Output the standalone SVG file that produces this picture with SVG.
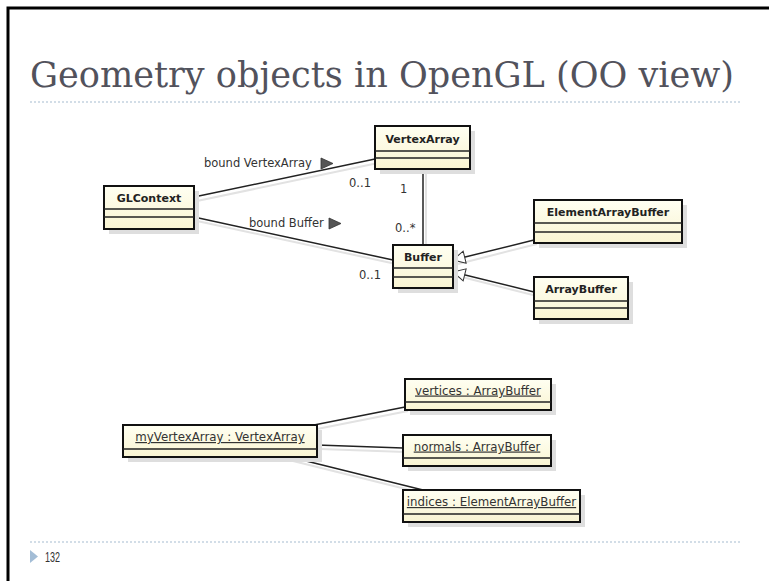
<svg xmlns="http://www.w3.org/2000/svg" width="769" height="581" viewBox="0 0 769 581">
  <defs>
    <linearGradient id="boxfill" x1="0" y1="0" x2="0" y2="1">
      <stop offset="0" stop-color="#fffff2"/>
      <stop offset="1" stop-color="#f9f4d2"/>
    </linearGradient>
    <marker id="gen" viewBox="0 0 14 14" refX="13" refY="7" markerWidth="14" markerHeight="14" markerUnits="userSpaceOnUse" orient="auto">
      <path d="M1,0.8 L13,7 L1,13.2 Z" fill="#ffffff" stroke="#333333" stroke-width="1"/>
    </marker>
  </defs>
  <style>
    .frame { stroke: #000; stroke-width: 3; fill: none; }
    .dots { stroke: #c3d2e0; stroke-width: 1.5; stroke-dasharray: 2 2; fill: none; }
    .title { font-family: "DejaVu Serif", "Liberation Serif", serif; font-size: 35px; fill: #52525c; }
    .shadow { fill: #dedede; }
    .box { fill: url(#boxfill); stroke: #111; stroke-width: 2; }
    .sep { stroke: #222; stroke-width: 1.5; }
    .cls { font-family: "DejaVu Sans", "Liberation Sans", sans-serif; font-size: 11px; font-weight: bold; fill: #222; text-anchor: middle; }
    .obj { font-family: "DejaVu Sans", "Liberation Sans", sans-serif; font-size: 11.8px; fill: #333; text-anchor: middle; text-decoration: underline; }
    .lbl { font-family: "DejaVu Sans", "Liberation Sans", sans-serif; font-size: 11.5px; fill: #333; }
    .link { stroke: #222; stroke-width: 1.5; fill: none; }
    .lshadow { stroke: #e2e2e2; stroke-width: 2; fill: none; }
    .dir { fill: #555; stroke: #333; stroke-width: 0.8; }
    .foot { font-family: "Liberation Sans", "DejaVu Sans", sans-serif; font-size: 14px; fill: #333; }
  </style>

  <rect width="769" height="581" fill="#ffffff"/>
  <path class="frame" d="M8,581 L8,8 L769,8"/>

  <text class="title" x="30" y="87" textLength="704" lengthAdjust="spacingAndGlyphs">Geometry objects in OpenGL (OO view)</text>
  <line class="dots" x1="30" y1="102" x2="741" y2="102"/>

  <g id="connectors">
    <line class="lshadow" x1="197" y1="201" x2="378" y2="163"/>
    <line class="lshadow" x1="197" y1="221" x2="396" y2="264"/>
    <line class="lshadow" x1="426" y1="170" x2="426" y2="246"/>
    <line class="lshadow" x1="537" y1="244" x2="458" y2="264"/>
    <line class="lshadow" x1="537" y1="296" x2="458" y2="276"/>
    <line class="lshadow" x1="317" y1="429" x2="408" y2="411"/>
    <line class="lshadow" x1="320" y1="449" x2="406" y2="452"/>
    <line class="lshadow" x1="293" y1="461" x2="430" y2="495"/>

    <line class="link" x1="194" y1="197" x2="375" y2="159"/>
    <line class="link" x1="194" y1="217" x2="393" y2="260"/>
    <line class="link" x1="423" y1="169" x2="423" y2="245"/>
    <line class="link" x1="534" y1="240" x2="453" y2="260" marker-end="url(#gen)"/>
    <line class="link" x1="534" y1="292" x2="453" y2="272" marker-end="url(#gen)"/>
    <line class="link" x1="314" y1="425" x2="405" y2="407"/>
    <line class="link" x1="317" y1="445" x2="403" y2="448"/>
    <line class="link" x1="290" y1="457" x2="427" y2="491"/>

    <text class="lbl" x="204" y="167">bound VertexArray</text>
    <polygon class="dir" points="321,158 333,163.5 321,169"/>
    <text class="lbl" x="249" y="227">bound Buffer</text>
    <polygon class="dir" points="329,218 341,223.5 329,229"/>
    <text class="lbl" x="349" y="187">0..1</text>
    <text class="lbl" x="400" y="193">1</text>
    <text class="lbl" x="395" y="232">0..*</text>
    <text class="lbl" x="359" y="279">0..1</text>
  </g>

  <g id="VertexArray">
    <rect class="shadow" x="380" y="131" width="95" height="43"/>
    <rect class="box" x="375" y="126" width="95" height="43"/>
    <line class="sep" x1="375" y1="151" x2="470" y2="151"/>
    <line class="sep" x1="375" y1="158" x2="470" y2="158"/>
    <text class="cls" x="422.5" y="143">VertexArray</text>
  </g>

  <g id="GLContext">
    <rect class="shadow" x="109" y="191" width="90" height="43"/>
    <rect class="box" x="104" y="186" width="90" height="43"/>
    <line class="sep" x1="104" y1="209" x2="194" y2="209"/>
    <line class="sep" x1="104" y1="217" x2="194" y2="217"/>
    <text class="cls" x="149" y="201.5">GLContext</text>
  </g>

  <g id="Buffer">
    <rect class="shadow" x="398" y="250" width="60" height="43"/>
    <rect class="box" x="393" y="245" width="60" height="43"/>
    <line class="sep" x1="393" y1="268" x2="453" y2="268"/>
    <line class="sep" x1="393" y1="277" x2="453" y2="277"/>
    <text class="cls" x="423" y="260.5">Buffer</text>
  </g>

  <g id="ElementArrayBuffer">
    <rect class="shadow" x="539" y="205" width="148" height="43"/>
    <rect class="box" x="534" y="200" width="148" height="43"/>
    <line class="sep" x1="534" y1="223" x2="682" y2="223"/>
    <line class="sep" x1="534" y1="232" x2="682" y2="232"/>
    <text class="cls" x="608" y="215.5">ElementArrayBuffer</text>
  </g>

  <g id="ArrayBuffer">
    <rect class="shadow" x="539" y="282" width="94" height="42"/>
    <rect class="box" x="534" y="277" width="94" height="42"/>
    <line class="sep" x1="534" y1="301" x2="628" y2="301"/>
    <line class="sep" x1="534" y1="308" x2="628" y2="308"/>
    <text class="cls" x="581" y="293">ArrayBuffer</text>
  </g>

  <g id="myVertexArray">
    <rect class="shadow" x="128" y="430" width="194" height="32"/>
    <rect class="box" x="123" y="425" width="194" height="32"/>
    <line class="sep" x1="123" y1="449" x2="317" y2="449"/>
    <text class="obj" x="220" y="441">myVertexArray : VertexArray</text>
  </g>

  <g id="vertices">
    <rect class="shadow" x="410" y="384" width="146" height="31"/>
    <rect class="box" x="405" y="379" width="146" height="31"/>
    <line class="sep" x1="405" y1="402" x2="551" y2="402"/>
    <text class="obj" x="478" y="394.5">vertices : ArrayBuffer</text>
  </g>

  <g id="normals">
    <rect class="shadow" x="408" y="440" width="148" height="31"/>
    <rect class="box" x="403" y="435" width="148" height="31"/>
    <line class="sep" x1="403" y1="458" x2="551" y2="458"/>
    <text class="obj" x="477" y="450.5">normals : ArrayBuffer</text>
  </g>

  <g id="indices">
    <rect class="shadow" x="408" y="495" width="177" height="32"/>
    <rect class="box" x="403" y="490" width="177" height="32"/>
    <line class="sep" x1="403" y1="514" x2="580" y2="514"/>
    <text class="obj" x="491.5" y="506">indices : ElementArrayBuffer</text>
  </g>

  <line class="dots" x1="30" y1="542" x2="740" y2="542"/>
  <polygon points="30,550 38,556.5 30,563" fill="#a3bdd6"/>
  <text class="foot" x="45" y="562" textLength="15" lengthAdjust="spacingAndGlyphs">132</text>
</svg>
